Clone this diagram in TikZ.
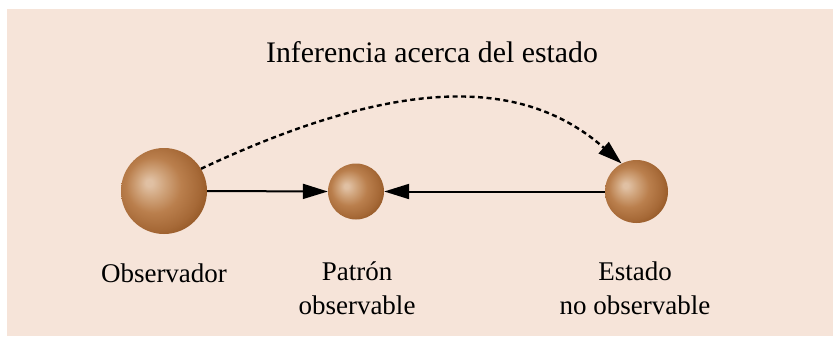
\documentclass[tikz,border=0pt]{standalone}
\usepackage{fontspec}
\setmainfont{Liberation Serif}
\newfontfamily\tnr{Liberation Serif}
\usetikzlibrary{arrows.meta}
\definecolor{peach}{RGB}{246,228,217}
\definecolor{ballhl}{RGB}{224,192,163}
\definecolor{balllt}{RGB}{208,164,124}
\definecolor{ballmid}{RGB}{186,127,77}
\definecolor{ballsh}{RGB}{166,105,55}
\definecolor{balldk}{RGB}{136,76,26}
\pgfdeclareradialshading{brownball}{\pgfpoint{-9bp}{5bp}}{%
  color(0bp)=(ballhl); color(2bp)=(ballhl); color(8bp)=(balllt);
  color(16bp)=(ballmid); color(25bp)=(ballsh); color(34bp)=(balldk); color(50bp)=(balldk)}
\tikzset{
  sphere/.style={circle, inner sep=0pt, minimum size=#1, shading=brownball},
  label text/.style={font=\tnr\fontsize{27}{29}\selectfont, align=center, inner sep=0pt},
  solidarrow/.style={line width=2pt, -{Triangle[length=25pt,width=15pt]}},
  dasharrow/.style={line width=2.4pt, dash pattern=on 5pt off 3.5pt, -{Triangle[length=24pt,width=15pt]}}
}
\begin{document}
\begin{tikzpicture}[x=1pt,y=-1pt]
\useasboundingbox (0,0) rectangle (833,338);
\fill[white] (0,0) rectangle (833,338);
\fill[peach] (7,9) rectangle (833,336);
\node[sphere=86pt] (obs) at (164,191) {};
\node[sphere=56pt] (pat) at (356,191.5) {};
\node[sphere=63pt] (est) at (636.5,191.5) {};
\draw[solidarrow] (obs.east) -- (pat.west);
\draw[solidarrow] (est.west) -- (pat.east);
\draw[dasharrow] (obs.31) .. controls (405,73) and (526,79) .. (est.118);
\node[label text, font=\tnr\fontsize{29.8}{30}\selectfont, anchor=base] (title) at (432,62) {Inferencia acerca del estado};
\node[label text, anchor=base] (lobs) at (164,282) {Observador};
\node[label text, anchor=north] (lpat) at (357,262) {Patrón\\[5pt]observable};
\node[label text, anchor=north] (lest) at (635,262) {Estado\\[5pt]no observable};
\end{tikzpicture}
\end{document}
